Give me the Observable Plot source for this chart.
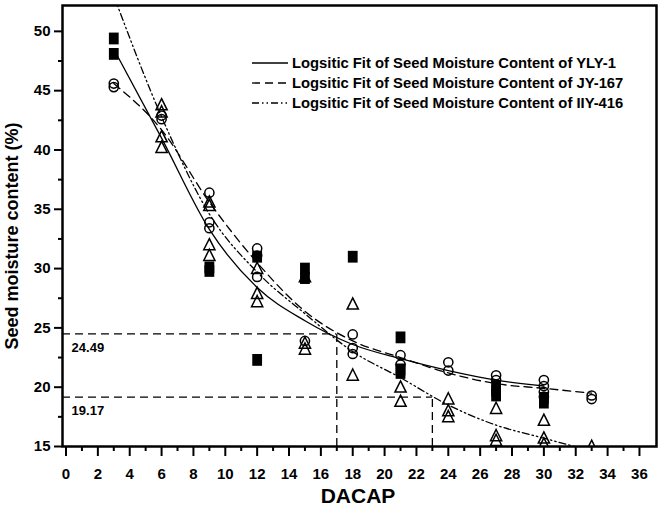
<!DOCTYPE html>
<html><head><meta charset="utf-8">
<script src="https://cdn.jsdelivr.net/npm/d3@7"></script>
<script src="https://cdn.jsdelivr.net/npm/@observablehq/plot@0.6"></script>
<style>body{margin:0;background:#fff;} svg{display:block;}</style>
</head><body><div id="chart"></div>
<script>
// ---- observed data (DACAP, moisture %) ----
const ylyDay = [3,3,9,9,12,12,15,15,18,21,21,21,27,27,27,30,30];
const ylyVal = [49.4,48.1,29.8,30.1,31.0,22.3,30.0,29.2,31.0,24.2,21.2,21.5,20.1,19.7,19.3,18.7,19.1];

const jyDay = [3,3,6,6,9,9,9,12,12,12,15,18,18,18,21,21,24,24,27,27,30,30,30,30,33,33];
const jyVal = [45.6,45.3,42.9,42.6,36.4,33.9,33.4,31.7,31.1,29.3,23.9,24.45,23.3,22.8,22.7,21.9,22.1,21.4,21.0,20.6,20.6,20.1,19.6,19.2,19.3,19.0];

const iiyDay = [6,6,6,6,9,9,9,9,12,12,12,15,15,15,18,18,21,21,24,24,24,27,27,27,30,30,30,33];
const iiyVal = [43.8,43.2,41.1,40.2,35.6,35.3,32.0,31.1,30.0,27.9,27.2,29.3,23.7,23.2,27.0,21.0,20.0,18.8,19.0,18.0,17.5,18.2,15.9,15.5,17.2,15.7,15.2,15.0];

// ---- fitted logistic curves ----
const ylyFitX = [3,6,9,12,15,18,21,24,27,30];
const ylyFitY = [48.5,41.0,33.3,28.4,25.6,23.6,22.4,21.4,20.6,20.1];
const jyFitX = [3,6,9,12,15,18,21,24,27,30,33];
const jyFitY = [45.6,41.7,35.6,30.5,26.4,23.9,22.5,21.2,20.3,19.9,19.5];
const iiyFitX = [3,6,9,12,15,18,21,24,27,30,33];
const iiyFitY = [53.0,42.8,34.6,29.7,26.2,23.0,20.8,18.5,16.8,15.7,14.6];

// ---- reference lines ----
const refX = [17, 23];
const refY = [24.49, 19.17];
const refLabel = ["24.49", "19.17"];

// ---- axes ----
const xMajor = d3.range(0, 37, 2);
const xMinor = d3.range(1, 37, 2);
const yMajor = d3.range(15, 51, 5);
const yMinor = d3.range(17.5, 52, 5);

const legendLabels = [
  "Logsitic Fit of Seed Moisture Content of YLY-1",
  "Logsitic Fit of Seed Moisture Content of JY-167",
  "Logsitic Fit of Seed Moisture Content of IIY-416"
];
const dashes = [null, "8,5", "7,3,1.5,3,1.5,3"];

const xDomain = [-0.22, 37.07];
const yDomain = [15, 52.18];
const FONT = "'Liberation Sans', Arial, Helvetica, sans-serif";

const symRect = { draw(ctx) { ctx.rect(-4.9, -5.9, 9.8, 11.8); } };
const symTri = { draw(ctx) { ctx.moveTo(0, -6.3); ctx.lineTo(5.6, 4.9); ctx.lineTo(-5.6, 4.9); ctx.closePath(); } };

const svg = Plot.plot({
  width: 666,
  height: 511,
  marginLeft: 62,
  marginRight: 10,
  marginTop: 5,
  marginBottom: 65,
  style: {fontFamily: FONT, background: "#fff", color: "#000"},
  x: {domain: xDomain, label: null},
  y: {domain: yDomain, label: null},
  marks: [
    Plot.axisX(xMajor, {tickSize: 10, tickPadding: 12, strokeWidth: 2, fontSize: 15, fontWeight: "bold", label: null, tickFormat: d => d}),
    Plot.axisX(xMinor, {tickSize: 5, strokeWidth: 2, text: null, label: null}),
    Plot.axisY(yMajor, {tickSize: 8, tickPadding: 4, strokeWidth: 2, fontSize: 15, fontWeight: "bold", label: null, tickFormat: d => d}),
    Plot.axisY(yMinor, {tickSize: 4, strokeWidth: 2, text: null, label: null}),
    // reference lines
    Plot.ruleY(refY, {y: d => d, x1: xDomain[0], x2: (d, i) => refX[i], stroke: "#000", strokeWidth: 1.3, strokeDasharray: "8,5"}),
    Plot.ruleX(refX, {x: d => d, y1: yDomain[0], y2: (d, i) => refY[i], stroke: "#000", strokeWidth: 1.3, strokeDasharray: "8,5"}),
    Plot.text(refLabel, {x: 0.35, y: (d, i) => refY[i], text: d => d, dy: 14, textAnchor: "start", fontSize: 13, fontWeight: "bold", fill: "#000"}),
    // fitted curves
    Plot.line(ylyFitY, {x: (d, i) => ylyFitX[i], y: d => d, curve: "monotone-x", stroke: "#000", strokeWidth: 1.3, clip: true}),
    Plot.line(jyFitY, {x: (d, i) => jyFitX[i], y: d => d, curve: "monotone-x", stroke: "#000", strokeWidth: 1.3, strokeDasharray: dashes[1], clip: true}),
    Plot.line(iiyFitY, {x: (d, i) => iiyFitX[i], y: d => d, curve: "monotone-x", stroke: "#000", strokeWidth: 1.3, strokeDasharray: dashes[2], clip: true}),
    // observations
    Plot.dot(ylyVal, {x: (d, i) => ylyDay[i], y: d => d, symbol: symRect, fill: "#000", stroke: "none", clip: true}),
    Plot.dot(jyVal, {x: (d, i) => jyDay[i], y: d => d, symbol: "circle", r: 4.6, fill: "none", stroke: "#000", strokeWidth: 1.5, clip: true}),
    Plot.dot(iiyVal, {x: (d, i) => iiyDay[i], y: d => d, symbol: symTri, fill: "none", stroke: "#000", strokeWidth: 1.5, clip: true}),
    Plot.frame({stroke: "#000", strokeWidth: 2.5})
  ]
});

const g = d3.select(svg);
// legend
const leg = g.append("g").attr("text-anchor", "start");
legendLabels.forEach((t, i) => {
  const yy = 63 + i * 20;
  leg.append("line").attr("x1", 252).attr("x2", 288).attr("y1", yy).attr("y2", yy)
    .attr("stroke", "#000").attr("stroke-width", 1.3)
    .attr("stroke-dasharray", dashes[i]);
  leg.append("text").attr("x", 292).attr("y", yy + 5).attr("text-anchor", "start")
    .attr("font-family", FONT).attr("font-size", 14.8).attr("font-weight", "bold")
    .attr("fill", "#000").text(t);
});
// axis titles
g.append("text").attr("transform", "translate(18,236) rotate(-90)")
  .attr("text-anchor", "middle").attr("font-family", FONT).attr("font-size", 18)
  .attr("font-weight", "bold").attr("fill", "#000").text("Seed moisture content (%)");
g.append("text").attr("x", 358).attr("y", 503)
  .attr("text-anchor", "middle").attr("font-family", FONT).attr("font-size", 21)
  .attr("font-weight", "bold").attr("fill", "#000").text("DACAP");

document.getElementById("chart").appendChild(svg);
</script></body></html>
